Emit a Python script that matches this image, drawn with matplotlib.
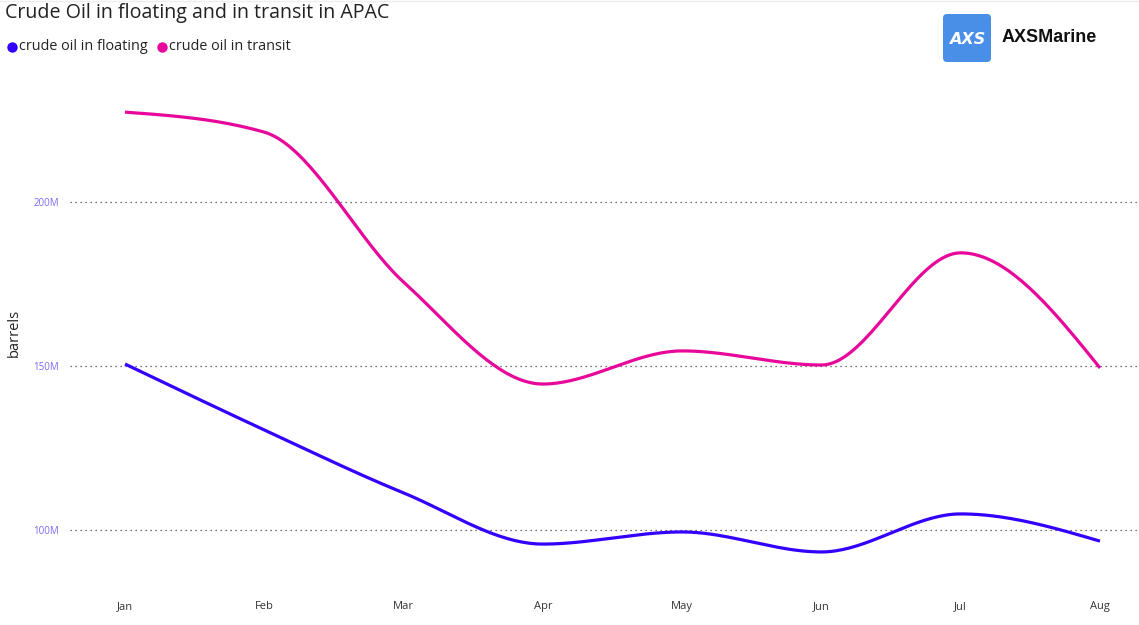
import numpy as np
import matplotlib
matplotlib.use("Agg")
import matplotlib.pyplot as plt
from matplotlib.patches import FancyBboxPatch

months = ["Jan", "Feb", "Mar", "Apr", "May", "Jun", "Jul", "Aug"]
floating = [150.6, 130.5, 111.3, 95.7, 99.4, 93.3, 104.9, 96.6]   # million barrels
transit = [227.4, 221.3, 175.6, 144.5, 154.6, 150.3, 184.5, 149.4]  # million barrels
yticks = [100, 150, 200]
ytick_labels = ["100M", "150M", "200M"]

FLOAT_C = "#3300FF"
TRANS_C = "#E8079B"


def monotone(xs, ys, n=40):
    xs = np.asarray(xs, float); ys = np.asarray(ys, float)
    h = np.diff(xs); s = np.diff(ys) / h
    m = np.zeros(len(xs))
    for i in range(1, len(xs) - 1):
        p = (s[i - 1] * h[i] + s[i] * h[i - 1]) / (h[i - 1] + h[i])
        m[i] = (np.sign(s[i - 1]) + np.sign(s[i])) * min(abs(s[i - 1]), abs(s[i]), 0.5 * abs(p))
    m[0] = (3 * s[0] - m[1]) / 2
    m[-1] = (3 * s[-1] - m[-2]) / 2
    X, Y = [], []
    for i in range(len(xs) - 1):
        t = np.linspace(0, 1, n)
        h00 = 2 * t**3 - 3 * t**2 + 1
        h10 = t**3 - 2 * t**2 + t
        h01 = -2 * t**3 + 3 * t**2
        h11 = t**3 - t**2
        X.append(xs[i] + t * h[i])
        Y.append(h00 * ys[i] + h10 * h[i] * m[i] + h01 * ys[i + 1] + h11 * h[i] * m[i + 1])
    return np.concatenate(X), np.concatenate(Y)


W, H = 1139, 625
fig = plt.figure(figsize=(W / 100, H / 100), dpi=100)
fig.patch.set_facecolor("white")

ax = fig.add_axes([70 / W, 1 - 590 / H, (1139 - 70) / W, (590 - 80) / H])
x = np.arange(len(months))
for vals, col in [(transit, TRANS_C), (floating, FLOAT_C)]:
    sx, sy = monotone(x, vals)
    ax.plot(sx, sy, color=col, lw=2.3, solid_capstyle="butt", zorder=3)

ax.set_xlim(-0.395, 7.28)
ax.set_ylim(81.7, 237.2)
ax.set_yticks(yticks)
ax.set_yticklabels(ytick_labels)
ax.set_xticks(x)
ax.set_xticklabels(months)
for sp in ax.spines.values():
    sp.set_visible(False)
ax.tick_params(axis="both", length=0)
ax.tick_params(axis="y", labelsize=7, labelcolor="#7A6BF2", pad=8)
ax.tick_params(axis="x", labelsize=8, labelcolor="#333333", pad=8)
for lab in ax.get_yticklabels() + ax.get_xticklabels():
    lab.set_family("Open Sans")
ax.yaxis.grid(True, color="#444444", lw=0.9, linestyle=(0, (1, 3)))
ax.set_axisbelow(True)

fig.text(14 / W, 1 - 333 / H, "barrels", rotation=90, ha="center", va="center",
         fontsize=10.5, color="#222222", family="Open Sans")

fig.text(5 / W, 1 - 13 / H, "Crude Oil in floating and in transit in APAC", ha="left", va="center",
         fontsize=14.1, color="#222222", family="Open Sans")

# legend / logo overlay
lax = fig.add_axes([0, 0, 1, 1], facecolor="none")
lax.set_xlim(0, W); lax.set_ylim(H, 0); lax.axis("off")
lax.plot([12], [47], "o", color=FLOAT_C, ms=7.5, mew=0)
lax.text(19, 47, "crude oil in floating", ha="left", va="center",
         fontsize=10.4, color="#222222", family="Open Sans")
lax.plot([162], [47], "o", color=TRANS_C, ms=7.5, mew=0)
lax.text(169, 47, "crude oil in transit", ha="left", va="center",
         fontsize=10.4, color="#222222", family="Open Sans")

lax.add_patch(FancyBboxPatch((943, 14), 48, 48, boxstyle="round,pad=0,rounding_size=4",
                             fc="#4A8FE7", ec="none"))
lax.text(967, 39, "AXS", color="white", ha="center", va="center", fontsize=11.5,
         fontweight="bold", style="italic", family="DejaVu Sans")
lax.text(1002, 38, "AXSMarine", color="#111111", ha="left", va="center", fontsize=13,
         fontweight="bold", family="Liberation Sans")
lax.plot([0, W], [1, 1], color="#eeeeee", lw=1)

fig.savefig("out.png", dpi=100, facecolor="white")
